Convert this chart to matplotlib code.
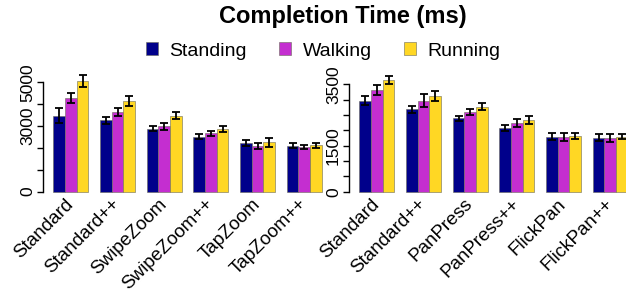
import matplotlib
matplotlib.use("Agg")
import matplotlib.pyplot as plt
import numpy as np

plt.rcParams['font.family'] = ['Liberation Sans', 'DejaVu Sans']

conditions = ["Standing", "Walking", "Running"]
colors = ["#00008B", "#C42ED0", "#FFD724"]

zoom_techniques = ["Standard", "Standard++", "SwipeZoom", "SwipeZoom++", "TapZoom", "TapZoom++"]
zoom_standing = [3480, 3260, 2870, 2520, 2230, 2100]
zoom_walking = [4300, 3660, 3000, 2670, 2100, 2040]
zoom_running = [5080, 4130, 3480, 2870, 2260, 2120]
zoom_standing_err = [330, 170, 115, 105, 130, 105]
zoom_walking_err = [240, 190, 160, 105, 130, 100]
zoom_running_err = [270, 230, 160, 130, 200, 105]

pan_techniques = ["Standard", "Standard++", "PanPress", "PanPress++", "FlickPan", "FlickPan++"]
pan_standing = [2960, 2685, 2390, 2075, 1795, 1760]
pan_walking = [3315, 2960, 2590, 2250, 1795, 1760]
pan_running = [3640, 3130, 2770, 2340, 1815, 1795]
pan_standing_err = [150, 110, 90, 90, 120, 105]
pan_walking_err = [175, 210, 90, 135, 130, 135]
pan_running_err = [140, 165, 110, 130, 110, 90]

zoom_ticks = [0, 1000, 2000, 3000, 4000, 5000]
zoom_labels = ["0", "", "", "3000", "", "5000"]
pan_ticks = [0, 500, 1000, 1500, 2000, 2500, 3000, 3500]
pan_labels = ["0", "", "", "1500", "", "", "", "3500"]

W, H = 626, 289
fig = plt.figure(figsize=(W / 100, H / 100), dpi=100)


def px_axes(x0, x1, y_top, y_bot):
    return fig.add_axes([x0 / W, 1 - y_bot / H, (x1 - x0) / W, (y_bot - y_top) / H])


def draw(ax, names, series, errs, ticks, labels, ylim):
    n = len(names)
    for j, (vals, err) in enumerate(zip(series, errs)):
        x = np.arange(n) * 4 + 1.5 + j
        ax.bar(x, vals, width=1.0, color=colors[j], edgecolor="#6b6b5a",
               linewidth=0.4, label=conditions[j], zorder=2)
        ax.errorbar(x, vals, yerr=err, fmt="none", ecolor="black",
                    elinewidth=1.3, capsize=3.0, capthick=1.3, zorder=3)
    ax.set_xlim(0.08, 24.92)
    ax.set_ylim(*ylim)
    for s in ["top", "right", "bottom"]:
        ax.spines[s].set_visible(False)
    ax.spines["left"].set_bounds(ticks[0], ticks[-1])
    ax.spines["left"].set_linewidth(1.0)
    ax.set_yticks(ticks)
    ax.set_yticklabels(labels, rotation=90, va="center", fontsize=12.5)
    ax.tick_params(axis="y", length=4, width=1.0, pad=1.5)
    ax.set_xticks(np.arange(n) * 4 + 2.5)
    ax.set_xticklabels(names, rotation=45, ha="right", va="center",
                       rotation_mode="anchor", fontsize=13.6)
    ax.tick_params(axis="x", length=0, pad=4)
    ax.patch.set_alpha(0)


# left: 0 at y=191.5, 5000 at y=82.5
ax1 = px_axes(42.6, 332.5, 82.5 - 500 * 0.0218, 191.5 + 200 * 0.0218)
draw(ax1, zoom_techniques, [zoom_standing, zoom_walking, zoom_running],
     [zoom_standing_err, zoom_walking_err, zoom_running_err],
     zoom_ticks, zoom_labels, (-200, 5500))

# right: 0 at y=191.7, 3500 at y=84.3
k = (191.7 - 84.3) / 3500
ax2 = px_axes(348.6, 348.6 + 289.9, 84.3 - 400 * k, 191.7 + 140 * k)
draw(ax2, pan_techniques, [pan_standing, pan_walking, pan_running],
     [pan_standing_err, pan_walking_err, pan_running_err],
     pan_ticks, pan_labels, (-140, 3900))

fig.text(342.5 / W, 1 - 16 / H, "Completion Time (ms)", ha="center", va="center",
         fontsize=17, fontweight="bold")

handles, labs = ax1.get_legend_handles_labels()
fig.legend(handles, labs, loc="center", bbox_to_anchor=(323.3 / W, 1 - 51 / H),
           ncol=3, frameon=False, fontsize=14, handlelength=0.62,
           handleheight=0.62, handletextpad=0.6, columnspacing=1.65,
           borderpad=0, borderaxespad=0)

fig.savefig("out.png", dpi=100)
